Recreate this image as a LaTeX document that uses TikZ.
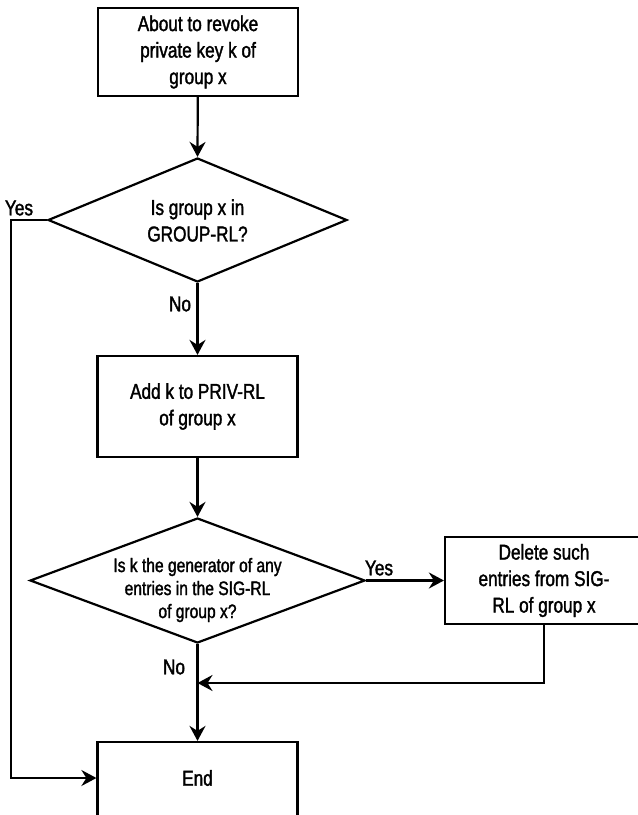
\documentclass[tikz,border=0pt]{standalone}
\usepackage{fontspec}
\setmainfont{Liberation Sans}[FakeStretch=0.8,FakeBold=1.6]
\usetikzlibrary{shapes.geometric,arrows.meta,calc}

\begin{document}
\begin{tikzpicture}[x=1pt,y=-1pt,
  every node/.style={font=\fontsize{21.5}{26.5}\selectfont},
  procbox/.style={draw, line width=2.2pt, rectangle, minimum width=200pt, inner sep=0pt, align=center},
  decision/.style={draw, line width=2.2pt, diamond, inner sep=0pt},
  flow/.style={line width=2.2pt, -{Stealth[length=15pt,width=16pt,inset=5pt]}},
  tag/.style={inner sep=0pt, align=center},
  smalltxt/.style={tag, font=\fontsize{19.5}{23}\selectfont}
]
\useasboundingbox (0,0) rectangle (638,815);
\clip (0,0) rectangle (638,815);

% process boxes
\node[procbox, minimum height=88pt] (start) at (198,52) {About to revoke\\private key k of\\group x};
\node[procbox, minimum height=101pt] (addk) at (197.5,406.5) {Add k to PRIV-RL\\of group x};
\node[procbox, minimum width=198pt, minimum height=87pt] (delete) at (544,580.5) {Delete such\\entries from SIG-\\RL of group x};
\node[procbox, minimum height=101pt] (end) at (197.5,792.5) {};
\node[tag] (endtext) at (197.5,778) {End};

% decisions
\node[decision, minimum width=299pt, minimum height=124pt] (grouprl) at (197.5,220) {};
\node[tag] (grouprltext) at (197.5,220.5) {Is group x in\\GROUP-RL?};
\node[decision, minimum width=335pt, minimum height=125pt] (sigrl) at (197.5,580.5) {};
\node[smalltxt] (sigrltext) at (197.5,590) {Is k the generator of any\\entries in the SIG-RL\\of group x?};

% branch labels
\node[tag] (yesone) at (19,208) {Yes};
\node[tag] (noone) at (180,304) {No};
\node[tag] (yestwo) at (379,568) {Yes};
\node[tag] (notwo) at (174,667) {No};

% helper points
\coordinate (yesbend) at (11,220);
\coordinate (merge) at (197.5,683);

% connectors
\draw[flow] (start) -- (grouprl.north);
\draw[flow] (grouprl.south) -- (addk.north);
\draw[flow] (addk.south) -- (sigrl.north);
\draw[flow] (sigrl.east) -- (delete.west);
\draw[flow] (sigrl.south) -- (end.north);
\draw[flow] (delete.south) |- (merge);
\draw[flow] (grouprl.west) -- (yesbend) |- (endtext -| end.west);
\end{tikzpicture}
\end{document}
